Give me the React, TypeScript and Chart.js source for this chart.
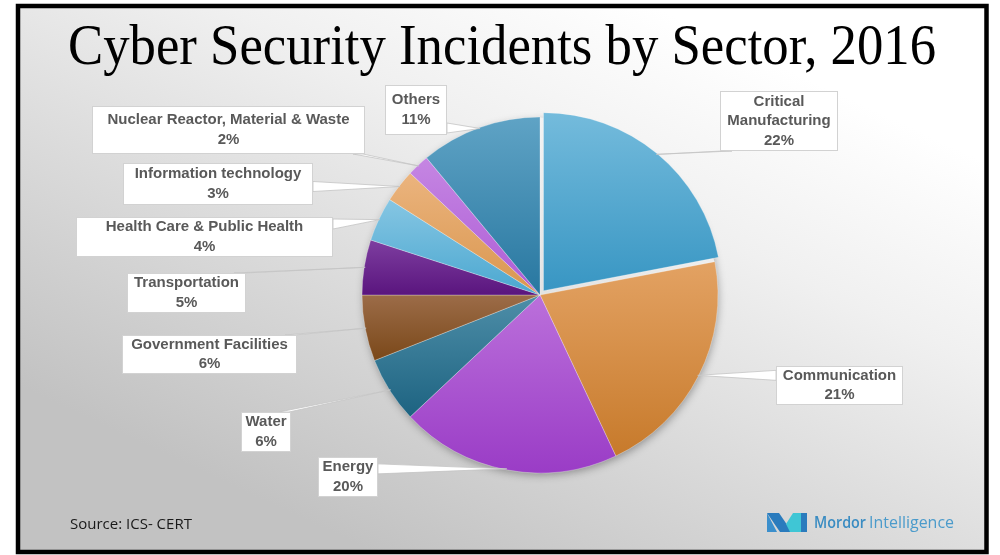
import React, { useEffect, useRef } from "react";
import { Chart, registerables } from "chart.js";

Chart.register(...registerables);

// ---------- data ----------
const categories = [
  "Critical Manufacturing",
  "Communication",
  "Energy",
  "Water",
  "Government Facilities",
  "Transportation",
  "Health Care & Public Health",
  "Information technology",
  "Nuclear Reactor, Material & Waste",
  "Others",
];
const shares = [22, 21, 20, 6, 6, 5, 4, 3, 2, 11];

// ---------- styles / layout ----------
const explode = [22, 0, 0, 0, 0, 0, 0, 0, 0, 0];
const topColors = [
  "#74bbdc", "#e3a263", "#bb70db", "#4e8ea8", "#9c6c48",
  "#7e3ea0", "#86c6e3", "#ebb47e", "#c586e2", "#5fa3c5",
];
const bottomColors = [
  "#3896c3", "#c77a2b", "#9a3cc6", "#1d6381", "#7a4819",
  "#5a157e", "#4aa7d0", "#d9964e", "#ad5cd6", "#2877a0",
];
// label boxes: [left, top, width, height]
const labelBoxes = [
  [720, 91, 118, 60],
  [776, 366, 127, 39],
  [318, 457, 60, 40],
  [241, 412, 50, 40],
  [122, 335, 175, 39],
  [127, 273, 119, 40],
  [76, 217, 257, 40],
  [123, 163, 190, 42],
  [92, 106, 273, 48],
  [385, 85, 62, 50],
];
const TITLE = "Cyber Security Incidents by Sector, 2016";
const SOURCE = "Source: ICS- CERT";
const BRAND_A = "Mordor";
const BRAND_B = "Intelligence";
const PIE_RADIUS = 178;
const LABEL_FONT = "bold 15px 'Liberation Sans', Arial, sans-serif";
const LABEL_COLOR = "#595959";

const total = shares.reduce((a, b) => a + b, 0);

function sliceGradient(c: any) {
  const i = c.dataIndex;
  const chart = c.chart;
  const area = chart.chartArea;
  if (i === undefined || !area) return topColors[i || 0];
  const cy = (area.top + area.bottom) / 2;
  let before = 0;
  for (let k = 0; k < i; k++) before += shares[k];
  const a0 = -Math.PI / 2 + (before / total) * Math.PI * 2;
  const a1 = a0 + (shares[i] / total) * Math.PI * 2;
  const ys = [cy, cy + PIE_RADIUS * Math.sin(a0), cy + PIE_RADIUS * Math.sin(a1)];
  const inRange = (a: number) => {
    for (let t = a - 4 * Math.PI; t <= a + 4 * Math.PI; t += 2 * Math.PI) {
      if (t >= a0 && t <= a1) return true;
    }
    return false;
  };
  if (inRange(Math.PI / 2)) ys.push(cy + PIE_RADIUS);
  if (inRange(-Math.PI / 2)) ys.push(cy - PIE_RADIUS);
  const y0 = Math.min(...ys);
  const y1 = Math.max(...ys);
  const g = chart.ctx.createLinearGradient(0, y0, 0, y1 + 0.01);
  g.addColorStop(0, topColors[i]);
  g.addColorStop(1, bottomColors[i]);
  return g;
}

function wrapText(ctx: CanvasRenderingContext2D, text: string, maxW: number) {
  const words = text.split(" ");
  const lines: string[] = [];
  let cur = "";
  for (const w of words) {
    const test = cur ? cur + " " + w : w;
    if (ctx.measureText(test).width > maxW && cur) {
      lines.push(cur);
      cur = w;
    } else cur = test;
  }
  if (cur) lines.push(cur);
  return lines;
}

const backgroundPlugin = {
  id: "bgPlugin",
  beforeDraw(chart: any) {
    const ctx: CanvasRenderingContext2D = chart.ctx;
    const w = chart.width;
    const h = chart.height;
    ctx.save();
    ctx.fillStyle = "#ffffff";
    ctx.fillRect(0, 0, w, h);
    const g = ctx.createLinearGradient(640, 0, 380, 555);
    g.addColorStop(0, "#ffffff");
    g.addColorStop(0.3, "#f0f0f0");
    g.addColorStop(1, "#c2c2c2");
    ctx.fillStyle = g;
    ctx.fillRect(18, 6, 968, 546);
    // title
    ctx.fillStyle = "#000000";
    ctx.font = "58px 'Liberation Serif', 'Times New Roman', serif";
    ctx.textAlign = "center";
    ctx.textBaseline = "alphabetic";
    ctx.fillText(TITLE, 502, 64, 868);
    ctx.restore();
  },
  beforeDatasetsDraw(chart: any) {
    const meta = chart.getDatasetMeta(0);
    const el = meta.data[1];
    if (!el) return;
    const p = el.getProps(["x", "y", "outerRadius"], true);
    const ctx: CanvasRenderingContext2D = chart.ctx;
    ctx.save();
    // clip to outside of the pie so only the outer shadow shows
    ctx.beginPath();
    ctx.rect(0, 0, chart.width, chart.height);
    ctx.arc(p.x, p.y, p.outerRadius - 0.5, 0, Math.PI * 2, true);
    ctx.clip("evenodd");
    ctx.shadowColor = "rgba(0,0,0,0.35)";
    ctx.shadowBlur = 8;
    ctx.shadowOffsetX = 1;
    ctx.shadowOffsetY = 3;
    ctx.fillStyle = "#8a8a8a";
    ctx.beginPath();
    ctx.arc(p.x, p.y, p.outerRadius - 1, 0, Math.PI * 2);
    ctx.fill();
    ctx.restore();
  },
  afterDatasetsDraw(chart: any) {
    const ctx: CanvasRenderingContext2D = chart.ctx;
    const meta = chart.getDatasetMeta(0);
    ctx.save();
    ctx.font = LABEL_FONT;
    meta.data.forEach((el: any, i: number) => {
      const p = el.getProps(["x", "y", "startAngle", "endAngle", "outerRadius"], true);
      const mid = (p.startAngle + p.endAngle) / 2;
      const r = p.outerRadius + explode[i] / 4 - 1;
      const ax = p.x + Math.cos(mid) * r;
      const ay = p.y + Math.sin(mid) * r;
      const [bx, by, bw, bh] = labelBoxes[i];
      const half = 5;
      let p1: number[], p2: number[];
      const outX = ax < bx ? bx - ax : ax > bx + bw ? ax - (bx + bw) : 0;
      const outY = ay < by ? by - ay : ay > by + bh ? ay - (by + bh) : 0;
      const clamp = (v: number, lo: number, hi: number) => Math.max(lo, Math.min(hi, v));
      if (outX > 0 && (outY === 0 || outY > outX)) {
        const ex = ax < bx ? bx : bx + bw;
        const cy = clamp(ay, by + half + 2, by + bh - half - 2);
        p1 = [ex, cy - half];
        p2 = [ex, cy + half];
      } else {
        const ey = ay < by ? by : by + bh;
        const cx = clamp(ax, bx + half + 2, bx + bw - half - 2);
        p1 = [cx - half, ey];
        p2 = [cx + half, ey];
      }
      ctx.beginPath();
      ctx.moveTo(p1[0], p1[1]);
      ctx.lineTo(ax, ay);
      ctx.lineTo(p2[0], p2[1]);
      ctx.closePath();
      ctx.fillStyle = "#ffffff";
      ctx.fill();
      ctx.strokeStyle = "#c4c4c4";
      ctx.lineWidth = 0.8;
      ctx.stroke();
    });
    meta.data.forEach((_el: any, i: number) => {
      const [bx, by, bw, bh] = labelBoxes[i];
      ctx.fillStyle = "#ffffff";
      ctx.fillRect(bx, by, bw, bh);
      ctx.strokeStyle = "#d2d2d2";
      ctx.lineWidth = 1;
      ctx.strokeRect(bx + 0.5, by + 0.5, bw - 1, bh - 1);
      const lines = wrapText(ctx, categories[i], bw - 2);
      lines.push(shares[i] + "%");
      const lh = 19.5;
      const cx = bx + bw / 2;
      const startY = by + bh / 2 - ((lines.length - 1) * lh) / 2;
      ctx.fillStyle = LABEL_COLOR;
      ctx.textAlign = "center";
      ctx.textBaseline = "middle";
      lines.forEach((ln, k) => ctx.fillText(ln, cx, startY + k * lh));
    });
    ctx.restore();
  },
  afterDraw(chart: any) {
    const ctx: CanvasRenderingContext2D = chart.ctx;
    ctx.save();
    ctx.fillStyle = "#1a1a1a";
    ctx.font = "15px 'Open Sans', 'Liberation Sans', sans-serif";
    ctx.textAlign = "left";
    ctx.textBaseline = "alphabetic";
    ctx.fillText(SOURCE, 70, 529, 128);
    const poly = (pts: number[][], col: string) => {
      ctx.beginPath();
      ctx.moveTo(pts[0][0], pts[0][1]);
      for (let k = 1; k < pts.length; k++) ctx.lineTo(pts[k][0], pts[k][1]);
      ctx.closePath();
      ctx.fillStyle = col;
      ctx.fill();
    };
    poly([[767, 513], [767, 532], [777, 532]], "#3b8fcc");
    poly([[767, 513], [779, 513], [792, 532], [780, 532]], "#2a7bbd");
    poly([[786, 524], [793, 513], [801, 513], [801, 532], [790, 532]], "#3fc6d5");
    poly([[801, 513], [807, 513], [807, 532], [801, 532]], "#2a7bbd");
    ctx.fillStyle = "#3a8cc2";
    ctx.font = "600 17px 'Open Sans', 'Liberation Sans', sans-serif";
    ctx.fillText(BRAND_A, 814, 528, 52);
    ctx.fillStyle = "#4b9bcb";
    ctx.font = "17px 'Open Sans', 'Liberation Sans', sans-serif";
    ctx.fillText(BRAND_B, 869, 528, 85);
    ctx.strokeStyle = "#000000";
    ctx.lineWidth = 4.5;
    ctx.strokeRect(18, 6, 968.5, 546);
    ctx.restore();
  },
};

export default function App() {
  const ref = useRef<HTMLCanvasElement>(null);
  useEffect(() => {
    document.body.style.margin = "0";
    const chart = new Chart(ref.current as HTMLCanvasElement, {
      type: "pie",
      data: {
        labels: categories,
        datasets: [
          {
            data: shares,
            backgroundColor: sliceGradient as any,
            borderColor: "rgba(255,255,255,0.28)",
            borderWidth: 1,
            offset: explode,
            radius: PIE_RADIUS,
          } as any,
        ],
      },
      options: {
        responsive: false,
        animation: false,
        devicePixelRatio: 1,
        events: [],
        layout: { padding: { left: 80, right: 0, top: 75, bottom: 40 } },
        plugins: {
          legend: { display: false },
          tooltip: { enabled: false },
          title: { display: false },
        },
      },
      plugins: [backgroundPlugin],
    });
    return () => chart.destroy();
  }, []);
  return (
    <div style={{ position: "absolute", left: 0, top: 0, width: 1000, height: 555 }}>
      <canvas ref={ref} width={1000} height={555} style={{ display: "block", width: 1000, height: 555 }} />
    </div>
  );
}
